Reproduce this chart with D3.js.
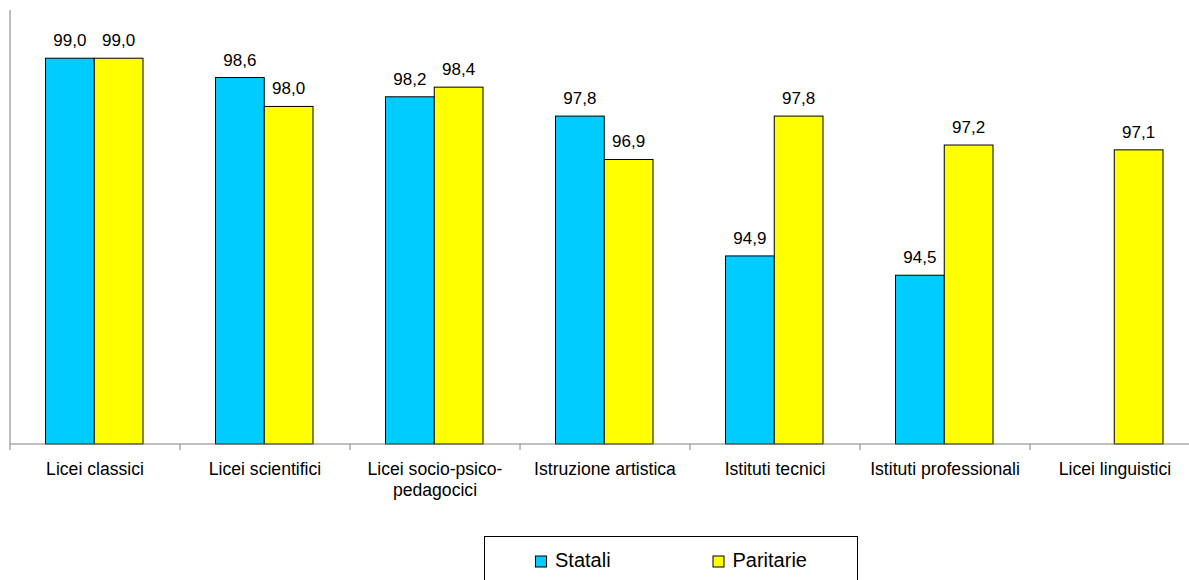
<!DOCTYPE html>
<html>
<head>
<meta charset="utf-8">
<script src="https://cdn.jsdelivr.net/npm/d3@7"></script>
<style>
  body { margin: 0; background: #fff; }
  svg { display: block; font-family: "Liberation Sans", Arial, sans-serif; }
</style>
</head>
<body>
<svg id="chart" width="1189" height="580"></svg>
<script>
// data
const categories = ['Licei classici', 'Licei scientifici', 'Licei socio-psico-pedagocici',
    'Istruzione artistica', 'Istituti tecnici', 'Istituti professionali', 'Licei linguistici']
const categoryLabels = [['Licei classici'], ['Licei scientifici'], ['Licei socio-psico-', 'pedagocici'],
    ['Istruzione artistica'], ['Istituti tecnici'], ['Istituti professionali'], ['Licei linguistici']]
const seriesNames = ['Statali', 'Paritarie']
const statali = [99.0, 98.6, 98.2, 97.8, 94.9, 94.5, null]
const paritarie = [99.0, 98.0, 98.4, 96.9, 97.8, 97.2, 97.1]
const colors = ['#00ccff', '#ffff00']

const svg = d3.select('#chart')

let x = d3.scaleBand()
    .domain(categories)
    .range([10, 1200])
    .padding(0)

let xInner = d3.scaleBand()
    .domain(seriesNames)
    .range([35.5, 133])

let y = d3.scaleLinear()
    .domain([91, 100])
    .range([444, 10])

let rows = []
categories.forEach((c, i) => {
    rows.push({cat: c, series: 'Statali', value: statali[i], color: colors[0]})
    rows.push({cat: c, series: 'Paritarie', value: paritarie[i], color: colors[1]})
})
rows = rows.filter(d => d.value != null)

// bars
svg.selectAll('rect.bar')
    .data(rows)
    .enter()
    .append('rect')
    .attr('class', 'bar')
    .attr('x', d => x(d.cat) + xInner(d.series))
    .attr('y', d => y(d.value))
    .attr('width', xInner.bandwidth())
    .attr('height', d => y.range()[0] - y(d.value))
    .attr('fill', d => d.color)
    .attr('stroke', '#000')
    .attr('stroke-width', 1)

// value labels
svg.selectAll('text.value')
    .data(rows)
    .enter()
    .append('text')
    .attr('class', 'value')
    .attr('x', d => x(d.cat) + xInner(d.series) + xInner.bandwidth() / 2)
    .attr('y', d => y(d.value) - 12)
    .attr('text-anchor', 'middle')
    .attr('font-size', 17)
    .attr('fill', '#000')
    .text(d => d3.format('.1f')(d.value).replace('.', ','))

// axes
svg.append('line')
    .attr('x1', 10).attr('x2', 10)
    .attr('y1', y(100)).attr('y2', y(91))
    .attr('stroke', '#808080')

svg.append('line')
    .attr('x1', 10).attr('x2', 1200)
    .attr('y1', y(91)).attr('y2', y(91))
    .attr('stroke', '#808080')

svg.selectAll('line.tick')
    .data(categories)
    .enter()
    .append('line')
    .attr('class', 'tick')
    .attr('x1', d => x(d)).attr('x2', d => x(d))
    .attr('y1', y(91)).attr('y2', y(91) + 6)
    .attr('stroke', '#808080')

let labels = svg.selectAll('text.cat')
    .data(categories)
    .enter()
    .append('text')
    .attr('class', 'cat')
    .attr('x', d => x(d) + x.bandwidth() / 2)
    .attr('y', 475)
    .attr('text-anchor', 'middle')
    .attr('font-size', 17.6)

labels.selectAll('tspan')
    .data((d, i) => categoryLabels[i])
    .enter()
    .append('tspan')
    .attr('x', function () { return d3.select(this.parentNode).attr('x') })
    .attr('dy', (d, i) => i == 0 ? 0 : 21)
    .text(d => d)

// legend
svg.append('rect')
    .attr('x', 484.5).attr('y', 536.5)
    .attr('width', 373).attr('height', 60)
    .attr('fill', 'none')
    .attr('stroke', '#000')

let legendX = [535.5, 713]
svg.selectAll('rect.legend')
    .data(seriesNames)
    .enter()
    .append('rect')
    .attr('class', 'legend')
    .attr('x', (d, i) => legendX[i])
    .attr('y', 556)
    .attr('width', 11)
    .attr('height', 11)
    .attr('fill', (d, i) => colors[i])
    .attr('stroke', '#000')

svg.selectAll('text.legend')
    .data(seriesNames)
    .enter()
    .append('text')
    .attr('class', 'legend')
    .attr('x', (d, i) => legendX[i] + 19.5)
    .attr('y', 567)
    .attr('font-size', 20)
    .text(d => d)
</script>
</body>
</html>
